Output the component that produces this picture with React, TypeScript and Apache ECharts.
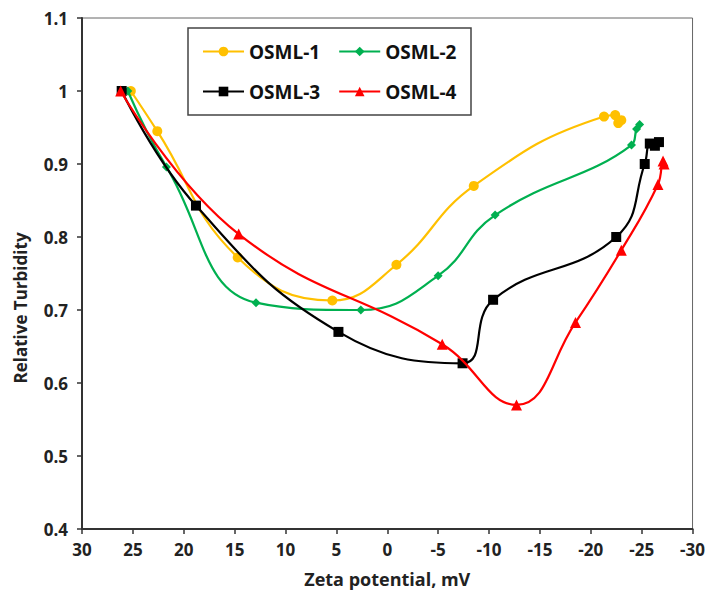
import React, { useEffect, useRef } from "react";
import * as echarts from "echarts";

const seriesNames = ["OSML-1", "OSML-2", "OSML-3", "OSML-4"];

const osml1X = [25.2, 22.6, 14.7, 5.4, -0.9, -8.5, -21.3, -22.4, -23.0, -22.7];
const osml1Y = [1.0, 0.945, 0.772, 0.713, 0.762, 0.87, 0.965, 0.967, 0.96, 0.956];

const osml2X = [25.5, 21.7, 12.9, 2.6, -5.0, -10.6, -24.0, -24.5, -24.8];
const osml2Y = [1.0, 0.896, 0.71, 0.7, 0.747, 0.83, 0.926, 0.948, 0.954];

const osml3X = [26.1, 18.8, 4.8, -7.4, -10.4, -22.5, -25.3, -25.8, -26.3, -26.7];
const osml3Y = [1.0, 0.843, 0.67, 0.627, 0.714, 0.8, 0.9, 0.928, 0.925, 0.93];

const osml4X = [26.2, 14.6, -5.4, -12.7, -18.5, -23.0, -26.6, -27.1, -27.2];
const osml4Y = [1.0, 0.804, 0.653, 0.57, 0.683, 0.782, 0.872, 0.904, 0.9];

const colors = ["#FFC000", "#00B050", "#000000", "#FF0000"];
const symbols = ["circle", "diamond", "rect", "triangle"];
const symbolSizes = [10, 9, 10, 11];

const FONT = "'Open Sans', 'Noto Sans', sans-serif";

function pairs(xs: number[], ys: number[]) {
  return xs.map((x, i) => [x, ys[i]]);
}

export default function App() {
  const ref = useRef<HTMLDivElement>(null);

  useEffect(() => {
    if (!ref.current) return;
    const chart = echarts.init(ref.current, undefined, { renderer: "svg" });
    const allData = [
      pairs(osml1X, osml1Y),
      pairs(osml2X, osml2Y),
      pairs(osml3X, osml3Y),
      pairs(osml4X, osml4Y),
    ];
    const legendText = {
      fontFamily: FONT,
      fontWeight: "bold" as const,
      fontSize: 19,
      color: "#111",
    };
    chart.setOption({
      animation: false,
      backgroundColor: "#fff",
      grid: {
        left: 82,
        right: 15,
        top: 18,
        bottom: 57,
        show: true,
        borderColor: "#666",
        borderWidth: 1,
      },
      legend: [
        {
          data: [seriesNames[0], seriesNames[1]],
          left: 202,
          top: 42,
          itemWidth: 41,
          itemHeight: 12,
          itemGap: 18,
          padding: 0,
          textStyle: legendText,
        },
        {
          data: [seriesNames[2], seriesNames[3]],
          left: 202,
          top: 82,
          itemWidth: 41,
          itemHeight: 12,
          itemGap: 18,
          padding: 0,
          textStyle: legendText,
        },
      ],
      graphic: [
        {
          type: "rect",
          shape: { x: 188, y: 28, width: 283, height: 87 },
          style: { fill: "none", stroke: "#444", lineWidth: 1.5 },
          z: 10,
        },
        {
          type: "text",
          x: 20,
          y: 308,
          rotation: Math.PI / 2,
          style: {
            text: "Relative Turbidity",
            fontFamily: FONT,
            fontWeight: "bold",
            fontSize: 17,
            fill: "#222",
            textAlign: "center",
            textVerticalAlign: "middle",
          },
        },
      ],
      xAxis: {
        type: "value",
        min: -30,
        max: 30,
        interval: 5,
        inverse: true,
        name: "Zeta potential, mV",
        nameLocation: "middle",
        nameGap: 41,
        nameTextStyle: { fontFamily: FONT, fontWeight: "bold", fontSize: 18, color: "#222" },
        axisLine: { onZero: false, lineStyle: { color: "#333", width: 2 } },
        axisTick: { length: 5, lineStyle: { color: "#333", width: 1.5 } },
        axisLabel: { margin: 12, fontFamily: FONT, fontWeight: "bold", fontSize: 17, color: "#222" },
        splitLine: { show: false },
      },
      yAxis: {
        type: "value",
        min: 0.4,
        max: 1.1,
        interval: 0.1,
        axisLine: { onZero: false, lineStyle: { color: "#333", width: 2 } },
        axisTick: { length: 5, lineStyle: { color: "#333", width: 1.5 } },
        axisLabel: {
          margin: 14,
          fontFamily: FONT,
          fontWeight: "bold",
          fontSize: 17,
          color: "#222",
          formatter: (v: number) => String(Math.round(v * 10) / 10),
        },
        splitLine: { show: false },
      },
      series: allData.map((d, i) => ({
        name: seriesNames[i],
        type: "line",
        data: d,
        smooth: 0.45,
        symbol: symbols[i],
        symbolSize: symbolSizes[i],
        showAllSymbol: true,
        lineStyle: { color: colors[i], width: 2.2 },
        itemStyle: { color: colors[i], borderWidth: 0 },
        z: 2 + i,
      })),
    });
    return () => chart.dispose();
  }, []);

  return <div ref={ref} style={{ width: 708, height: 593, position: "absolute", left: 0, top: 0 }} />;
}
